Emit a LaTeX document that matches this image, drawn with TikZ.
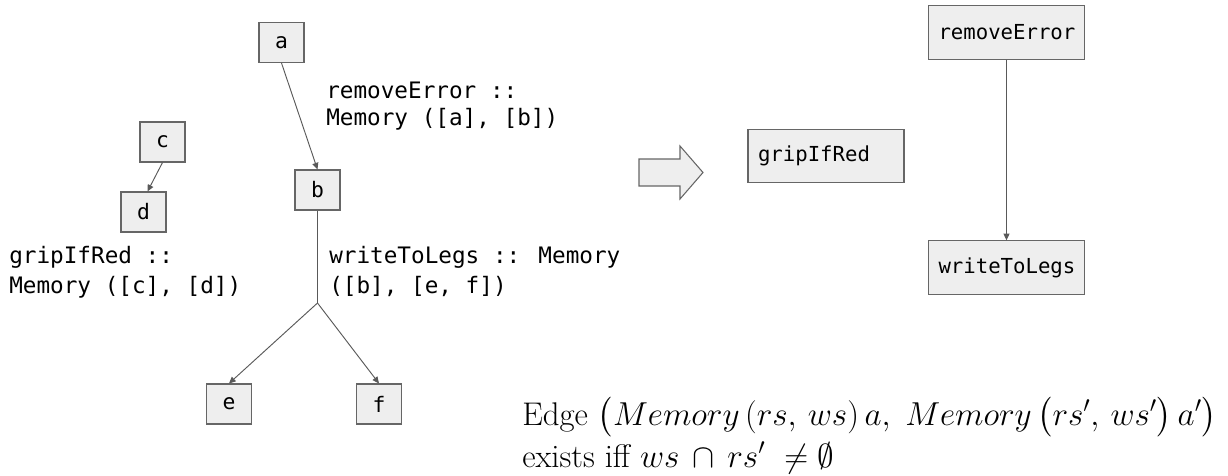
\documentclass[tikz,border=0pt]{standalone}
\usepackage{amsmath}
\usepackage{fontspec}
\newfontfamily\codefont{DejaVu Sans Mono}
\usetikzlibrary{arrows.meta}
\definecolor{boxfill}{HTML}{EEEEEE}
\definecolor{boxline}{HTML}{666666}
\definecolor{edgeline}{HTML}{595959}
\begin{document}
\begin{tikzpicture}[x=0.75pt,y=-0.75pt,
  varbox/.style={draw=boxline,fill=boxfill,line width=0.8pt,
    minimum width=33.75pt,minimum height=30pt,inner sep=0pt,
    font=\codefont\fontsize{16}{19}\selectfont},
  taskbox/.style={draw=boxline,fill=boxfill,line width=0.8pt,
    minimum height=40pt,inner xsep=7.5pt,inner ysep=0pt,text width=102pt,
    align=left,font=\codefont\fontsize{15.5}{18}\selectfont},
  codelabel/.style={anchor=base west,inner sep=0pt,
    font=\codefont\fontsize{17}{21}\selectfont},
  mathlabel/.style={anchor=base west,inner sep=0pt,
    font=\fontsize{24.6}{32}\selectfont},
  edge/.style={draw=edgeline,line width=0.7pt,
    -{Triangle[length=5pt,width=4.5pt]}},
  plain/.style={draw=edgeline,line width=0.7pt}]
\useasboundingbox (0,0) rectangle (1228,475);

% variables and the tasks reading / writing them
\node[varbox] (a) at (281.5,42.5) {a};
\node[varbox] (b) at (317.5,190) {b};
\node[varbox] (c) at (162.5,142) {c};
\node[varbox] (d) at (143.5,212) {d};
\node[varbox] (e) at (229,404) {e};
\node[varbox] (f) at (379,404) {f};
\coordinate (split) at (317.5,303);

\path[edge] (a.south) -- (b.north);
\path[edge] (c.south) -- ([xshift=3pt]d.north);
\path[plain] (b.south) -- (split);
\path[edge] (split) -- (e.north);
\path[edge] (split) -- (f.north);

\node[codelabel] (lre1) at (326,98) {removeError ::};
\node[codelabel] (lre2) at (326,125) {Memory ([a], [b])};
\node[codelabel] (lgr1) at (9,263) {gripIfRed ::};
\node[codelabel] (lgr2) at (9,293) {Memory ([c], [d])};
\node[codelabel] (lwl1) at (329,263) {writeToLegs :: Memory};
\node[codelabel] (lwl2) at (329,293) {([b], [e, f])};

% transformation arrow
\draw[draw=boxline,fill=boxfill,line width=0.8pt]
  (639,159) -- (680,159) -- (680,146) -- (703,172.5)
  -- (680,199) -- (680,186) -- (639,186) -- cycle;

% resulting dependency graph
\node[taskbox] (grip) at (826,156) {gripIfRed};
\node[taskbox] (remove) at (1006.5,32.5) {removeError};
\node[taskbox] (write) at (1006.5,267.5) {writeToLegs};
\path[edge] (remove.south) -- (write.north);

% edge rule
\node[mathlabel] (rule1) at (522,425)
  {Edge $\bigl(Memory\,(rs,\, ws)\, a,\; Memory\,\bigl(rs',\, ws'\bigr)\, a'\bigr)$};
\node[mathlabel] (rule2) at (522,467)
  {exists iff $ws\,\cap\,rs'\ \neq\emptyset$};
\end{tikzpicture}
\end{document}
